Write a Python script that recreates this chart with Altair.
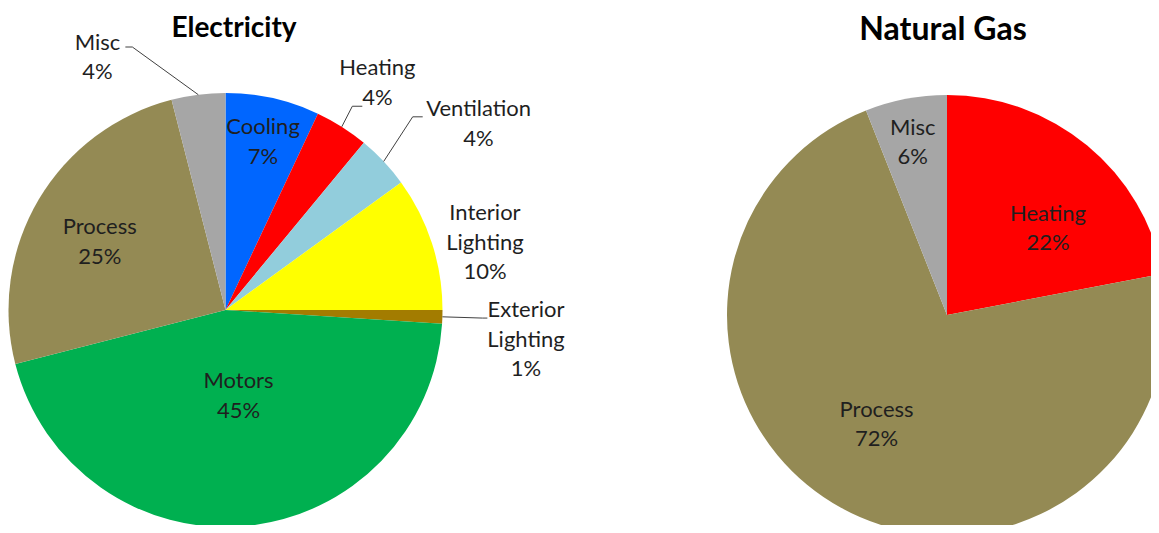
import altair as alt
import pandas as pd
import numpy as np

# ---------------- data ----------------
elec_categories = ["Cooling", "Heating", "Ventilation", "Interior Lighting",
                   "Exterior Lighting", "Motors", "Process", "Misc"]
elec_values = [7, 4, 4, 10, 1, 45, 25, 4]

gas_categories = ["Heating", "Process", "Misc"]
gas_values = [22, 72, 6]

color_domain = ["Cooling", "Heating", "Ventilation", "Interior Lighting",
                "Exterior Lighting", "Motors", "Process", "Misc"]
color_range = ["#0066FF", "#FF0000", "#92CDDC", "#FFFF00",
               "#A37C00", "#00B050", "#948A54", "#A6A6A6"]

label_names = {"Interior Lighting": "Interior\nLighting",
               "Exterior Lighting": "Exterior\nLighting"}

# ---------------- layout / style ----------------
FONT = "Lato"
FS = 22
LH = 29.5
TXT = "#1f1f1f"
ELEC = dict(cx=217.5, cy=302, r=217)
GAS = dict(cx=939, cy=307, r=220)

# label placement: (angle offset in degrees from slice middle, radius px)
elec_label_place = {
    "Cooling": (0, 172), "Heating": (1.4, 273), "Ventilation": (6.9, 314),
    "Interior Lighting": (3.5, 268), "Exterior Lighting": (3.9, 302),
    "Motors": (-3.2, 87), "Process": (-2.2, 143), "Misc": (-19.7, 283)}
gas_label_place = {"Heating": (9.8, 133), "Process": (4.0, 130), "Misc": (-0.4, 176)}

# leader lines: (elbow angle offset deg, elbow radius px, horizontal tail px)
elec_leaders = {"Misc": (-12.3, 279, -7), "Heating": (-0.5, 240, 10),
                "Ventilation": (-2.7, 269, 10), "Exterior Lighting": (0, 257, 5)}


def pie_frame(cats, vals, place):
    df = pd.DataFrame({"cat": cats, "value": vals})
    df["idx"] = range(len(df))
    total = df["value"].sum()
    end = df["value"].cumsum() / total * 100
    mid = end - df["value"] / total * 50
    df["mid"] = mid
    df["label"] = [f"{label_names.get(c, c)}\n{round(v / total * 100)}%"
                   for c, v in zip(cats, vals)]
    df["nl"] = [s.count("\n") + 1 for s in df["label"]]
    df["lt"] = [m + place[c][0] / 3.6 for c, m in zip(cats, mid)]
    df["lr"] = [place[c][1] for c in cats]
    return df


def leader_frame(df, leaders, geo):
    rows = []
    for c, (doff, rr, dx) in leaders.items():
        m = float(df.loc[df.cat == c, "mid"].iloc[0]) / 100 * 2 * np.pi
        e = m + np.deg2rad(doff)
        p0 = (geo["cx"] + geo["r"] * np.sin(m), geo["cy"] - geo["r"] * np.cos(m))
        p1 = (geo["cx"] + rr * np.sin(e), geo["cy"] - rr * np.cos(e))
        p2 = (p1[0] + dx, p1[1])
        for k, (x, y) in enumerate([p0, p1, p2]):
            rows.append({"cat": c, "k": k, "px": x, "py": y})
    return pd.DataFrame(rows)


theta_scale = alt.Scale(domain=[0, 100])
color_scale = alt.Scale(domain=color_domain, range=color_range)


def pie_layers(df, geo, ldf=None):
    arcs = alt.Chart(df).mark_arc(outerRadius=geo["r"]).encode(
        theta=alt.Theta("value:Q", stack=True, scale=theta_scale),
        order=alt.Order("idx:Q"),
        color=alt.Color("cat:N", scale=color_scale, legend=None),
        x=alt.value(geo["cx"]), y=alt.value(geo["cy"]),
    )
    out = [arcs]
    for n in sorted(df["nl"].unique()):
        labels = alt.Chart(df).transform_filter(
            f"datum.nl == {int(n)}"
        ).mark_text(
            font=FONT, fontSize=FS, lineBreak="\n", lineHeight=LH, color=TXT,
            align="center", baseline="middle", dy=-(int(n) - 1) * LH / 2,
        ).encode(
            theta=alt.Theta("lt:Q", stack=False, scale=theta_scale),
            radius=alt.Radius("lr:Q", scale=None),
            text=alt.Text("label:N"),
            x=alt.value(geo["cx"]), y=alt.value(geo["cy"]),
        )
        out.append(labels)
    if ldf is not None:
        lines = alt.Chart(ldf).mark_line(color="#404040", strokeWidth=1).encode(
            x=alt.X("px:Q", scale=None, axis=None),
            y=alt.Y("py:Q", scale=None, axis=None),
            detail="cat:N", order="k:Q",
        )
        out.append(lines)
    return out


elec_df = pie_frame(elec_categories, elec_values, elec_label_place)
gas_df = pie_frame(gas_categories, gas_values, gas_label_place)
elec_ldf = leader_frame(elec_df, elec_leaders, ELEC)

title_e = alt.Chart(pd.DataFrame({"t": ["Electricity"]})).mark_text(
    font=FONT, fontSize=28, fontWeight="bold", color="#000000",
    align="center", baseline="alphabetic").encode(
    text="t:N", x=alt.value(226), y=alt.value(29))
title_g = alt.Chart(pd.DataFrame({"t": ["Natural Gas"]})).mark_text(
    font=FONT, fontSize=32, fontWeight="bold", color="#000000",
    align="center", baseline="alphabetic").encode(
    text="t:N", x=alt.value(935), y=alt.value(32))

chart = alt.layer(
    *pie_layers(elec_df, ELEC, elec_ldf),
    *pie_layers(gas_df, GAS),
    title_e, title_g,
).properties(
    width=1143, height=517, padding=0,
    autosize=alt.AutoSizeParams(type="none"),
).configure_view(stroke="transparent")

chart.save("out.html", embed_options={"renderer": "svg", "actions": False})
